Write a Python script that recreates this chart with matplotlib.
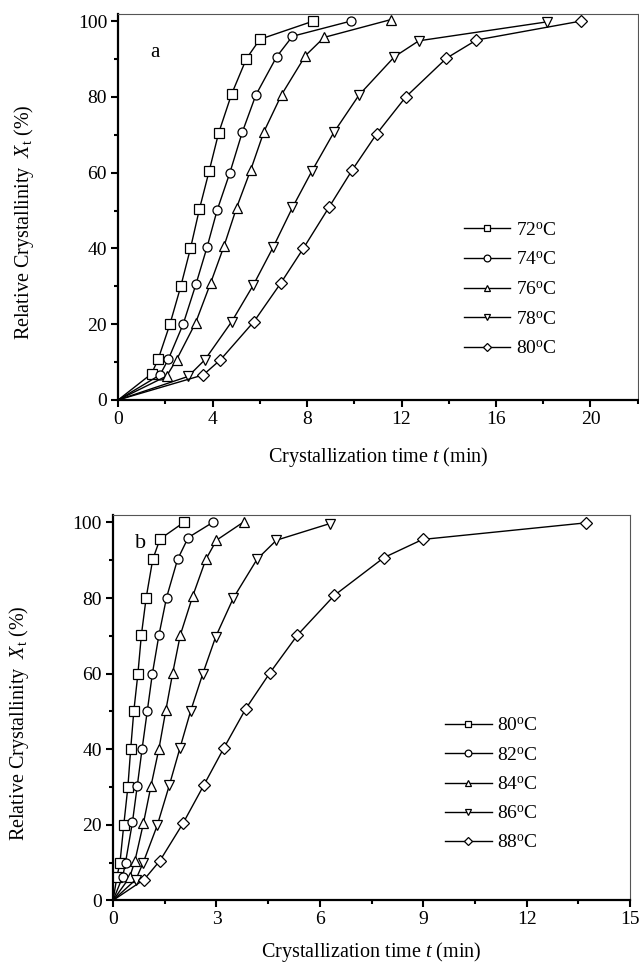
import matplotlib
matplotlib.use("Agg")
import matplotlib.pyplot as plt
from matplotlib.ticker import MultipleLocator

# --- data (t in min, Xt in %) ---
# panel a
t72 = [0, 1.41, 1.69, 2.19, 2.65, 3.06, 3.44, 3.85, 4.25, 4.80, 5.43, 6.00, 8.26]
x72 = [0, 6.9, 10.7, 20.0, 30.0, 40.0, 50.4, 60.4, 70.4, 80.7, 90.1, 95.2, 100]
t74 = [0, 1.77, 2.12, 2.75, 3.29, 3.77, 4.19, 4.73, 5.25, 5.83, 6.71, 7.38, 9.85]
x74 = [0, 6.6, 10.7, 20.0, 30.5, 40.5, 50.1, 60.0, 70.6, 80.5, 90.6, 96.0, 100]
t76 = [0, 2.05, 2.47, 3.28, 3.91, 4.48, 5.01, 5.61, 6.17, 6.92, 7.93, 8.72, 11.55]
x76 = [0, 6.3, 10.6, 20.4, 30.8, 40.6, 50.7, 60.7, 70.8, 80.6, 90.9, 95.7, 100.4]
t78 = [0, 2.96, 3.67, 4.81, 5.72, 6.56, 7.38, 8.21, 9.13, 10.20, 11.70, 12.73, 18.16]
x78 = [0, 6.2, 10.6, 20.7, 30.3, 40.3, 50.8, 60.5, 70.6, 80.5, 90.6, 94.8, 99.8]
t80a = [0, 3.60, 4.33, 5.75, 6.88, 7.84, 8.92, 9.91, 10.94, 12.18, 13.90, 15.17, 19.59]
x80a = [0, 6.6, 10.6, 20.7, 30.8, 40.0, 50.8, 60.7, 70.2, 80.0, 90.2, 95.0, 100]

# panel b
t80 = [0, 0.11, 0.20, 0.31, 0.43, 0.51, 0.60, 0.72, 0.82, 0.96, 1.15, 1.36, 2.05]
x80 = [0, 6.2, 10.0, 20.0, 30.1, 40.0, 50.0, 60.0, 70.2, 80.1, 90.2, 95.6, 100]
t82 = [0, 0.28, 0.36, 0.56, 0.70, 0.84, 0.99, 1.14, 1.33, 1.55, 1.87, 2.18, 2.89]
x82 = [0, 6.3, 10.0, 20.6, 30.2, 40.0, 50.0, 60.0, 70.2, 80.1, 90.2, 96.0, 100]
t84 = [0, 0.48, 0.63, 0.88, 1.10, 1.33, 1.53, 1.73, 1.95, 2.31, 2.69, 3.00, 3.80]
x84 = [0, 6.1, 10.3, 20.4, 30.3, 40.1, 50.3, 60.2, 70.2, 80.5, 90.2, 95.3, 100.2]
t86 = [0, 0.66, 0.87, 1.28, 1.63, 1.94, 2.25, 2.60, 2.98, 3.49, 4.18, 4.74, 6.29]
x86 = [0, 5.5, 9.9, 19.8, 30.4, 40.3, 50.1, 59.9, 69.8, 80.0, 90.3, 95.3, 99.7]
t88 = [0, 0.90, 1.36, 2.03, 2.64, 3.22, 3.85, 4.55, 5.35, 6.42, 7.86, 8.98, 13.73]
x88 = [0, 5.5, 10.5, 20.4, 30.6, 40.4, 50.7, 60.2, 70.2, 80.7, 90.7, 95.5, 99.9]

labels_a = ['72', '74', '76', '78', '80']
labels_b = ['80', '82', '84', '86', '88']
markers = ['s', 'o', '^', 'v', 'D']

plt.rcParams['font.family'] = ['Liberation Serif', 'DejaVu Serif']
plt.rcParams['mathtext.fontset'] = 'custom'
plt.rcParams['mathtext.rm'] = 'Liberation Serif'
plt.rcParams['mathtext.it'] = 'Liberation Serif:italic'
plt.rcParams['font.size'] = 14

fig = plt.figure(figsize=(6.39, 9.66), dpi=100)
ax1 = fig.add_axes([0.185, 0.586, 0.813, 0.4])
ax2 = fig.add_axes([0.177, 0.068, 0.809, 0.399])


def draw(ax, ts, xs, labels):
    for t, x, lab, m in zip(ts, xs, labels, markers):
        ms = 6.5 if m != 'D' else 5.8
        ax.plot(t, x, '-', color='k', lw=1.0, marker=m, ms=ms,
                mfc='white', mec='k', mew=0.9, markevery=slice(1, None),
                label=lab + r'$^{\mathrm{o}}$C')


def style(ax, pad):
    ax.set_ylim(0, 102)
    ax.yaxis.set_major_locator(MultipleLocator(20))
    ax.yaxis.set_minor_locator(MultipleLocator(10))
    ax.tick_params(which='both', direction='out', top=False, right=False, width=1.5)
    ax.tick_params(which='major', length=5, labelsize=14, pad=3)
    ax.tick_params(which='minor', length=3)
    for s in ['left', 'bottom']:
        ax.spines[s].set_linewidth(1.6)
    for s in ['top', 'right']:
        ax.spines[s].set_linewidth(0.8)
        ax.spines[s].set_color('#555555')
    ax.set_xlabel(r'Crystallization time $t$ (min)', fontsize=14.5, labelpad=pad)
    ax.set_ylabel(r'Relative Crystallinity  $X_{\mathrm{t}}$ (%)', fontsize=14.5)
    ax.yaxis.set_label_coords(-0.158, 0.46)


# panel a
draw(ax1, [t72, t74, t76, t78, t80a], [x72, x74, x76, x78, x80a], labels_a)
ax1.set_xlim(0, 22)
ax1.xaxis.set_major_locator(MultipleLocator(4))
ax1.xaxis.set_minor_locator(MultipleLocator(2))
style(ax1, 12)
ax1.text(0.062, 0.9, 'a', transform=ax1.transAxes, fontsize=15, va='center')
ax1.legend(loc='center left', bbox_to_anchor=(0.646, 0.285), frameon=False,
           borderpad=0, handlelength=2.4, handletextpad=0.3, labelspacing=0.62,
           markerscale=0.75, fontsize=14)

# panel b
draw(ax2, [t80, t82, t84, t86, t88], [x80, x82, x84, x86, x88], labels_b)
ax2.set_xlim(0, 15)
ax2.xaxis.set_major_locator(MultipleLocator(3))
ax2.xaxis.set_minor_locator(MultipleLocator(1.5))
style(ax2, 8)
ax2.text(0.042, 0.927, 'b', transform=ax2.transAxes, fontsize=16, va='center')
ax2.legend(loc='center left', bbox_to_anchor=(0.623, 0.30), frameon=False,
           borderpad=0, handlelength=2.4, handletextpad=0.3, labelspacing=0.6,
           markerscale=0.75, fontsize=14)

fig.savefig('out.png', dpi=100)
